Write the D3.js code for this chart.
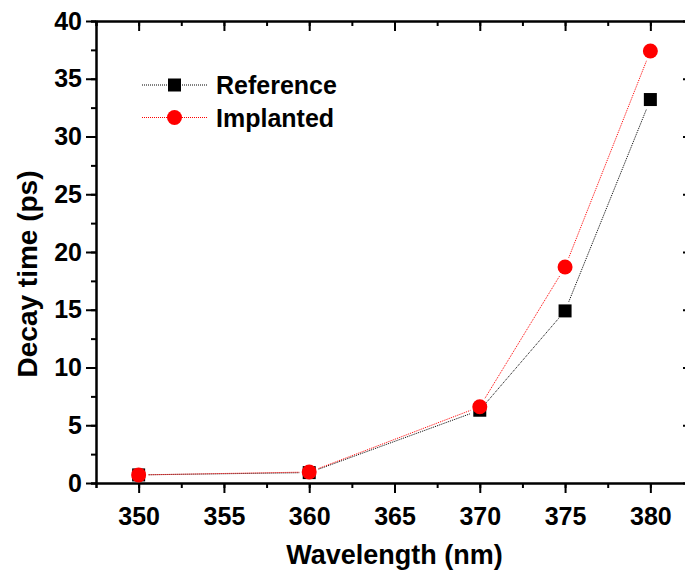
<!DOCTYPE html>
<html>
<head>
<meta charset="utf-8">
<script src="https://cdn.jsdelivr.net/npm/d3@7"></script>
<style>
  body { margin: 0; background: #fff; }
  svg text { font-family: "Liberation Sans", Arial, sans-serif; font-weight: bold; fill: #000; }
  .axis path, .axis line { stroke: #000; stroke-width: 2; }
  .axis text { font-size: 25px; }
</style>
</head>
<body>
<div id="chart"></div>
<script>
// data
var wavelengths = [350, 360, 370, 375, 380]
var referenceVals = [0.7, 0.9, 6.3, 14.9, 33.2]
var implantedVals = [0.7, 0.95, 6.6, 18.7, 37.4]
var xTicks = [350, 355, 360, 365, 370, 375, 380]
var yTicks = [0, 5, 10, 15, 20, 25, 30, 35, 40]

var W = 685, H = 571
var margin = { left: 96, top: 21, right: -8, bottom: 88 }
var width = W - margin.left - margin.right,
    height = H - margin.top - margin.bottom

var svg = d3.select("#chart").append("svg")
    .attr("width", W)
    .attr("height", H)

var g = svg.append("g")
    .attr("transform", "translate(" + margin.left + "," + margin.top + ")")

var x = d3.scaleLinear().domain([347.5, 382.5]).range([0, width])
var y = d3.scaleLinear().domain([0, 40]).range([height, 0])

var minorX = d3.range(347.5, 383, 2.5)
var minorY = d3.range(0, 40.1, 2.5)

// minor ticks first, then major axes on top
function minor(axis, vals, size){
    return axis.tickValues(vals).tickSize(size).tickFormat("")
}

g.append("g").attr("class", "axis").attr("transform", "translate(0," + height + ")")
    .call(minor(d3.axisBottom(x), minorX, 5))
g.append("g").attr("class", "axis")
    .call(minor(d3.axisLeft(y), minorY, 5))
g.append("g").attr("class", "axis")
    .call(minor(d3.axisBottom(x), minorX, 5))
g.append("g").attr("class", "axis").attr("transform", "translate(" + width + ",0)")
    .call(minor(d3.axisLeft(y), minorY, 5))

var xAxis = g.append("g").attr("class", "axis")
    .attr("transform", "translate(0," + height + ")")
    .call(d3.axisBottom(x).tickValues(xTicks).tickSize(10).tickPadding(8).tickSizeOuter(0))
var yAxis = g.append("g").attr("class", "axis")
    .call(d3.axisLeft(y).tickValues(yTicks).tickSize(10).tickPadding(4).tickSizeOuter(0))
g.append("g").attr("class", "axis")
    .call(d3.axisBottom(x).tickValues(xTicks).tickSize(10).tickFormat("").tickSizeOuter(0))
g.append("g").attr("class", "axis").attr("transform", "translate(" + width + ",0)")
    .call(d3.axisLeft(y).tickValues(yTicks).tickSize(10).tickFormat("").tickSizeOuter(0))

xAxis.selectAll("text").attr("dy", "0.95em")

// axis titles
svg.append("text")
    .attr("x", margin.left + width / 2)
    .attr("y", 564)
    .attr("text-anchor", "middle")
    .attr("font-size", "27px")
    .text("Wavelength (nm)")

svg.append("text")
    .attr("transform", "translate(37,274) rotate(-90)")
    .attr("text-anchor", "middle")
    .attr("font-size", "28px")
    .text("Decay time (ps)")

// series
var series = [
    { name: "Reference", vals: referenceVals, color: "#000", shape: "square" },
    { name: "Implanted", vals: implantedVals, color: "#ff0000", shape: "circle" }
]

var gap = 10
series.forEach(function(s){
    var pts = wavelengths.map(function(w, i){ return [x(w), y(s.vals[i])] })
    var segs = d3.pairs(pts)
    g.selectAll(".seg-" + s.shape)
        .data(segs)
        .enter().append("line")
        .attr("class", "seg-" + s.shape)
        .each(function(d){
            var dx = d[1][0] - d[0][0], dy = d[1][1] - d[0][1]
            var L = Math.sqrt(dx * dx + dy * dy)
            var ux = dx / L, uy = dy / L
            d3.select(this)
                .attr("x1", d[0][0] + ux * gap).attr("y1", d[0][1] + uy * gap)
                .attr("x2", d[1][0] - ux * gap).attr("y2", d[1][1] - uy * gap)
        })
        .attr("stroke", s.color)
        .attr("stroke-width", 1)
        .attr("stroke-dasharray", "1,1")
})

series.forEach(function(s){
    var mk = g.selectAll(".mk-" + s.shape).data(wavelengths).enter()
    if (s.shape == "square") {
        mk.append("rect")
            .attr("x", function(d){ return x(d) - 6.5 })
            .attr("y", function(d, i){ return y(s.vals[i]) - 6.5 })
            .attr("width", 13).attr("height", 13)
            .attr("fill", s.color)
    } else {
        mk.append("circle")
            .attr("cx", function(d){ return x(d) })
            .attr("cy", function(d, i){ return y(s.vals[i]) })
            .attr("r", 7.5)
            .attr("fill", s.color)
    }
})

// legend
var legend = svg.append("g").attr("transform", "translate(142,85)")
series.forEach(function(s, i){
    var lg = legend.append("g").attr("transform", "translate(0," + (i * 32.5) + ")")
    lg.append("line")
        .attr("x1", 0).attr("x2", 65).attr("y1", 0).attr("y2", 0)
        .attr("stroke", s.color).attr("stroke-width", 1).attr("stroke-dasharray", "1,1")
    if (s.shape == "square") {
        lg.append("rect").attr("x", 26).attr("y", -6.5).attr("width", 13).attr("height", 13).attr("fill", s.color)
    } else {
        lg.append("circle").attr("cx", 32.5).attr("cy", 0).attr("r", 7.5).attr("fill", s.color)
    }
    lg.append("text")
        .attr("x", 74).attr("y", 0)
        .attr("dy", "0.36em")
        .attr("font-size", "25px")
        .text(s.name)
})
</script>
</body>
</html>
